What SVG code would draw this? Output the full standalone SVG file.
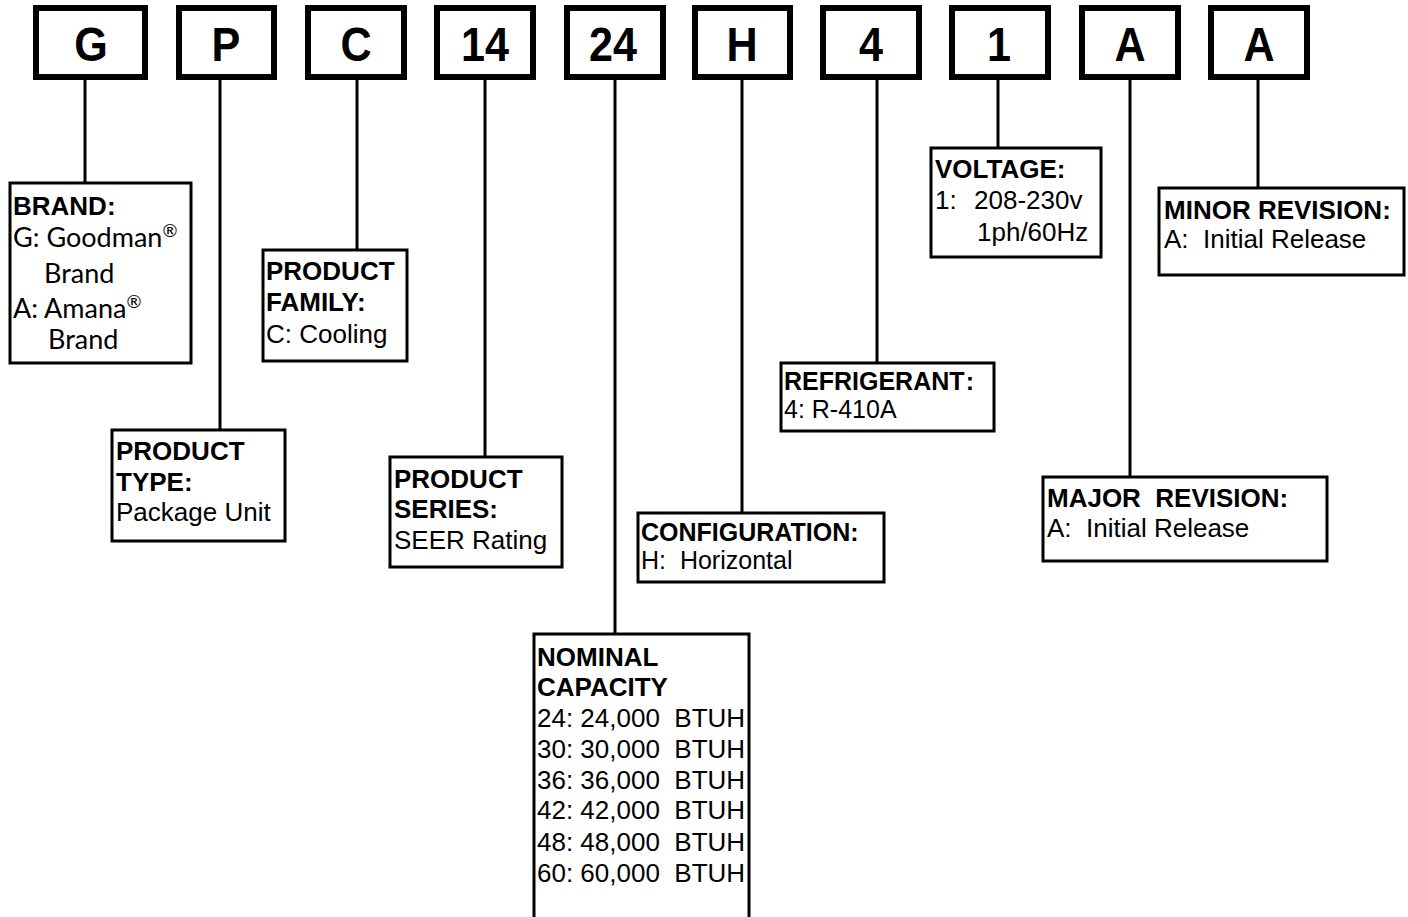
<svg xmlns="http://www.w3.org/2000/svg" width="1408" height="917" viewBox="0 0 1408 917">
<style>
.code{fill:#fff;stroke:#000;stroke-width:6}
.box{fill:#fff;stroke:#000;stroke-width:3}
.big{font-family:"Liberation Sans",Arial,sans-serif;font-weight:bold;font-size:49px;text-anchor:middle;fill:#000}
.h{font-family:"Liberation Sans",Arial,sans-serif;font-weight:bold;font-size:26px;fill:#000}
.t{font-family:"Liberation Sans",Arial,sans-serif;font-size:26px;fill:#000}
.s25{font-size:25px}
.c{font-family:Lato,"Open Sans",sans-serif;font-size:27px;fill:#000}
.conn line{stroke:#000;stroke-width:3}
</style>
<rect width="1408" height="917" fill="#fff"/>
<g id="connectors" class="conn">
<line x1="85" y1="80" x2="85" y2="183"/>
<line x1="220" y1="80" x2="220" y2="430"/>
<line x1="357" y1="80" x2="357" y2="250"/>
<line x1="485" y1="80" x2="485" y2="457"/>
<line x1="615" y1="80" x2="615" y2="634"/>
<line x1="742" y1="80" x2="742" y2="513"/>
<line x1="877" y1="80" x2="877" y2="363"/>
<line x1="998" y1="80" x2="998" y2="148"/>
<line x1="1130" y1="80" x2="1130" y2="477"/>
<line x1="1258" y1="80" x2="1258" y2="188"/>
</g>
<g id="code-G"><rect class="code" x="36" y="8" width="109" height="69"/><text class="big" transform="translate(91,61) scale(0.88,1)">G</text></g>
<g id="code-P"><rect class="code" x="179" y="8" width="95" height="69"/><text class="big" transform="translate(226,61) scale(0.88,1)">P</text></g>
<g id="code-C"><rect class="code" x="308" y="8" width="96" height="69"/><text class="big" transform="translate(356,61) scale(0.88,1)">C</text></g>
<g id="code-14"><rect class="code" x="437" y="8" width="96" height="69"/><text class="big" transform="translate(485,61) scale(0.88,1)">14</text></g>
<g id="code-24"><rect class="code" x="567" y="8" width="96" height="69"/><text class="big" transform="translate(613,61) scale(0.88,1)">24</text></g>
<g id="code-H"><rect class="code" x="695" y="8" width="95" height="69"/><text class="big" transform="translate(742,61) scale(0.88,1)">H</text></g>
<g id="code-4"><rect class="code" x="823" y="8" width="96" height="69"/><text class="big" transform="translate(871,61) scale(0.88,1)">4</text></g>
<g id="code-1"><rect class="code" x="952" y="8" width="96" height="69"/><text class="big" transform="translate(999,61) scale(0.88,1)">1</text></g>
<g id="code-A1"><rect class="code" x="1082" y="8" width="96" height="69"/><text class="big" transform="translate(1130,61) scale(0.88,1)">A</text></g>
<g id="code-A2"><rect class="code" x="1211" y="8" width="96" height="69"/><text class="big" transform="translate(1259,61) scale(0.88,1)">A</text></g>

<g id="brand"><rect class="box" x="10" y="183" width="181" height="180"/>
<text class="h" x="13" y="215">BRAND:</text>
<text class="c" x="13" y="247">G: Goodman<tspan font-size="18" dy="-10">®</tspan></text>
<text class="c" x="44" y="283">Brand</text>
<text class="c" x="13" y="318">A: Amana<tspan font-size="18" dy="-10">®</tspan></text>
<text class="c" x="48" y="349">Brand</text></g>

<g id="product-type"><rect class="box" x="112" y="430" width="173" height="111"/>
<text class="h" x="116" y="460">PRODUCT</text>
<text class="h" x="116" y="491">TYPE:</text>
<text class="t" x="116" y="521">Package Unit</text></g>

<g id="product-family"><rect class="box" x="263" y="250" width="144" height="111"/>
<text class="h" x="266" y="280">PRODUCT</text>
<text class="h" x="266" y="311">FAMILY:</text>
<text class="t" x="266" y="343">C: Cooling</text></g>

<g id="product-series"><rect class="box" x="390" y="457" width="172" height="110"/>
<text class="h" x="394" y="488">PRODUCT</text>
<text class="h" x="394" y="518">SERIES:</text>
<text class="t" x="394" y="549">SEER Rating</text></g>

<g id="nominal-capacity"><rect class="box" x="534" y="634" width="215" height="300"/>
<text class="h" x="537" y="666">NOMINAL</text>
<text class="h" x="537" y="696">CAPACITY</text>
<text class="t" x="537" y="727">24: 24,000&#160; BTUH</text>
<text class="t" x="537" y="758">30: 30,000&#160; BTUH</text>
<text class="t" x="537" y="789">36: 36,000&#160; BTUH</text>
<text class="t" x="537" y="819">42: 42,000&#160; BTUH</text>
<text class="t" x="537" y="851">48: 48,000&#160; BTUH</text>
<text class="t" x="537" y="882">60: 60,000&#160; BTUH</text></g>

<g id="configuration"><rect class="box" x="638" y="513" width="246" height="69"/>
<text class="h s25" x="641" y="541">CONFIGURATION:</text>
<text class="t s25" x="641" y="569">H:&#160; Horizontal</text></g>

<g id="refrigerant"><rect class="box" x="781" y="363" width="213" height="68"/>
<text class="h s25" x="784" y="390">REFRIGERAN<tspan>T</tspan><tspan dx="4">:</tspan></text>
<text class="t s25" x="784" y="418">4: R-410A</text></g>

<g id="voltage"><rect class="box" x="931" y="148" width="170" height="109"/>
<text class="h" x="935" y="178">VOLTAGE:</text>
<text class="t" x="935" y="209">1:</text>
<text class="t" x="974" y="209">208-230v</text>
<text class="t" x="977" y="241">1ph/60Hz</text></g>

<g id="minor-revision"><rect class="box" x="1159" y="188" width="245" height="87"/>
<text class="h" x="1164" y="219">MINOR REVISION:</text>
<text class="t" x="1164" y="248">A:&#160; Initial Release</text></g>

<g id="major-revision"><rect class="box" x="1043" y="477" width="284" height="84"/>
<text class="h" x="1047" y="507">MAJOR&#160; REVISION:</text>
<text class="t" x="1047" y="537">A:&#160; Initial Release</text></g>
</svg>
